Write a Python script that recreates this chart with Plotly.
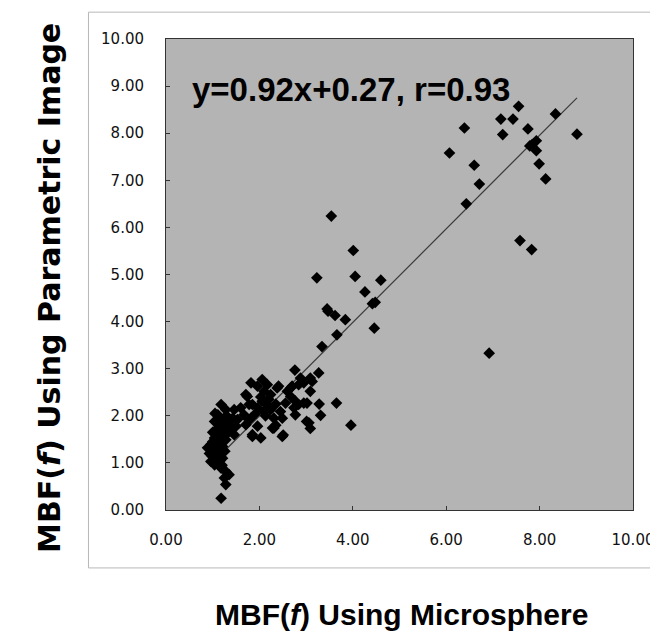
import plotly.graph_objects as go

# MBF(f): microsphere (x) vs parametric image (y)
x_low = [1.18, 1.28, 1.46, 1.11, 1.25, 1.43, 1.04, 1.18, 1.35, 1.50, 1.07, 1.21, 1.32, 1.04, 1.18,
         1.28, 0.96, 1.11, 1.21, 1.00, 1.14, 1.04, 0.96, 1.11, 1.21, 1.04, 1.18, 1.28, 1.35, 1.25,
         1.28, 1.18, 1.53, 1.46, 0.89, 1.07, 1.00, 0.93, 1.14, 1.25, 1.30, 1.08, 1.15, 1.22, 1.10,
         1.00, 1.05, 1.12, 1.38, 1.02, 1.16, 0.98, 1.26, 1.20, 1.13]
y_low = [2.24, 2.13, 2.13, 2.02, 1.95, 1.95, 1.88, 1.81, 1.81, 1.78, 1.70, 1.67, 1.63, 1.53, 1.53,
         1.49, 1.39, 1.39, 1.35, 1.25, 1.21, 1.10, 1.03, 1.00, 1.10, 0.96, 0.89, 0.82, 0.75, 0.68,
         0.54, 0.25, 1.92, 1.60, 1.32, 1.60, 1.45, 1.20, 1.75, 1.80, 2.00, 1.30, 1.45, 1.55, 1.15,
         1.65, 2.05, 1.90, 1.70, 1.35, 1.05, 1.15, 1.25, 0.95, 1.62]

x_two = [2.06, 1.82, 2.17, 1.96, 1.74, 2.10, 2.24, 2.38, 2.06, 2.17, 2.24, 2.10, 1.96, 1.85, 1.82,
         1.96, 1.85, 2.03, 2.28, 2.31, 1.67, 1.60, 1.71, 1.71, 1.78, 1.78, 1.85, 2.49, 2.41, 2.67,
         2.03, 2.13, 2.20, 1.92, 2.35]
y_two = [2.77, 2.70, 2.66, 2.63, 2.41, 2.52, 2.45, 2.59, 2.31, 2.24, 2.13, 2.10, 2.17, 2.24, 1.95,
         1.78, 1.60, 1.53, 1.74, 1.95, 2.02, 2.17, 1.81, 2.45, 2.24, 1.92, 1.56, 1.56, 2.63, 2.59,
         2.40, 2.00, 2.35, 2.05, 2.25]

x_mid = [2.76, 3.27, 3.09, 3.13, 2.88, 2.95, 3.09, 2.84, 2.70, 2.60, 2.67, 2.77, 2.84, 2.74, 2.77,
         2.56, 2.95, 3.28, 3.65, 3.31, 3.01, 3.09, 3.96, 2.45, 2.49, 2.35, 2.51, 2.31, 3.02, 3.06]
y_mid = [2.97, 2.91, 2.80, 2.73, 2.80, 2.70, 2.52, 2.66, 2.63, 2.52, 2.41, 2.31, 2.24, 2.17, 2.02,
         2.27, 2.27, 2.25, 2.27, 2.01, 1.88, 1.73, 1.80, 2.09, 1.95, 1.80, 1.59, 1.74, 2.27, 1.85]

x_high = [7.55, 8.34, 7.17, 7.43, 6.39, 7.21, 7.75, 8.80, 7.93, 7.84, 7.79, 7.93, 6.07, 7.99, 6.60,
          8.13, 6.71, 6.43, 3.54, 7.58, 7.83, 4.01, 3.23, 4.05, 4.60, 4.26, 4.42, 4.48, 3.45, 3.47,
          3.62, 3.84, 4.46, 3.66, 3.34, 6.92]
y_high = [8.57, 8.41, 8.30, 8.30, 8.11, 7.97, 8.09, 7.98, 7.84, 7.76, 7.73, 7.63, 7.58, 7.35, 7.32,
          7.03, 6.92, 6.50, 6.24, 5.72, 5.53, 5.51, 4.93, 4.96, 4.88, 4.63, 4.38, 4.41, 4.27, 4.22,
          4.13, 4.04, 3.86, 3.72, 3.47, 3.33]

x_all = x_low + x_two + x_mid + x_high
y_all = y_low + y_two + y_mid + y_high

# fitted line as drawn in the figure
fit_x = [1.30, 8.80]
fit_y = [1.30, 8.75]

fit_text = "y=0.92x+0.27, r=0.93"

arial = "Liberation Sans, Arial, sans-serif"

fig = go.Figure()
fig.add_trace(go.Scatter(x=fit_x, y=fit_y, mode="lines",
                         line=dict(color="#3a3a3a", width=1.2), hoverinfo="skip"))
fig.add_trace(go.Scatter(x=x_all, y=y_all, mode="markers",
                         marker=dict(symbol="diamond", size=9, color="black")))

axis_common = dict(
    range=[0, 10], tickformat=".2f", showgrid=False, zeroline=False,
    showline=True, linecolor="#333", linewidth=1, mirror=True,
    ticks="inside", ticklen=4, tickcolor="#333",
    tickfont=dict(family="DejaVu Sans, sans-serif", size=15, color="#111"),
)

fig.update_layout(
    width=658, height=633,
    margin=dict(l=158, r=30, t=31, b=131),
    paper_bgcolor="white", plot_bgcolor="#b4b4b4",
    showlegend=False,
    xaxis=dict(dtick=2, ticklabelstandoff=16, **axis_common),
    yaxis=dict(dtick=1, ticklabelstandoff=18, **axis_common),
    annotations=[
        dict(text="<b>" + fit_text + "</b>", xref="paper", yref="paper",
             x=0.052, y=0.892, xanchor="left", yanchor="middle", showarrow=False,
             font=dict(family=arial, size=33, color="black")),
        dict(text="<b>MBF(<i>f</i>) Using Microsphere</b>", xref="paper", yref="paper",
             x=0.504, y=-0.221, xanchor="center", yanchor="middle", showarrow=False,
             font=dict(family=arial, size=30, color="black")),
        dict(text="<b>MBF(<i>f</i>) Using Parametric Image</b>", xref="paper", yref="paper",
             x=-0.25, y=0.472, xanchor="center", yanchor="middle", showarrow=False,
             textangle=-90, font=dict(family="DejaVu Sans, sans-serif", size=30, color="black")),
    ],
    shapes=[
        dict(type="rect", xref="paper", yref="paper", x0=-0.166, x1=1.07, y0=-0.123, y1=1.057,
             line=dict(color="#b8b8b8", width=1), layer="below"),
    ],
)

fig.write_html("out.html")
